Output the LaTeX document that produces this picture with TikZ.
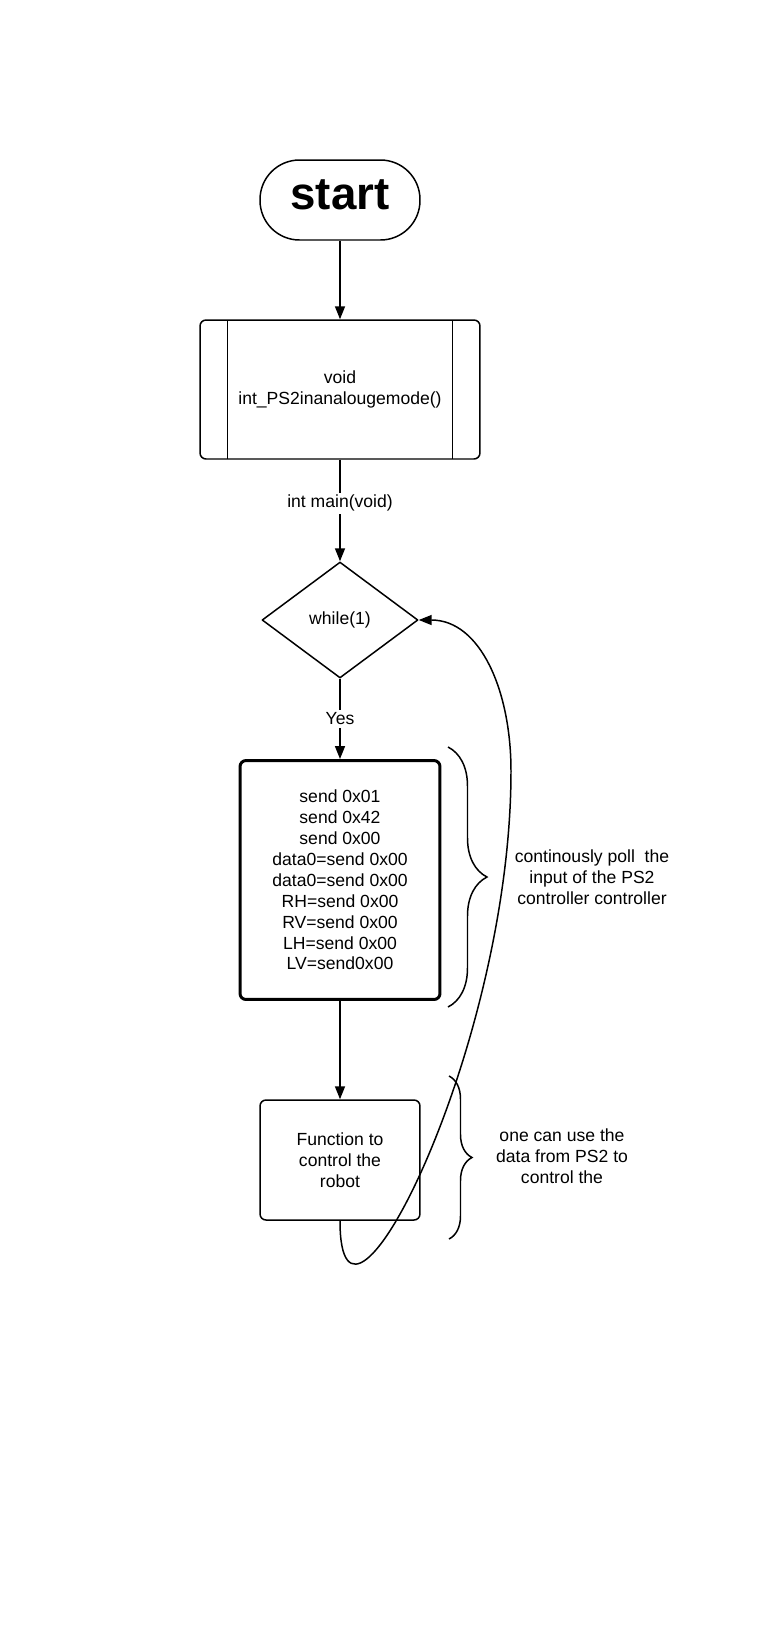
\documentclass[tikz,border=0pt]{standalone}
\usepackage{fontspec}
\setmainfont{Liberation Sans}
\usetikzlibrary{arrows.meta,shapes.geometric,decorations.pathreplacing}
\definecolor{ink}{HTML}{000000}
\tikzset{
  % ---- blocks ----------------------------------------------------
  txt/.style      = {font=\fontsize{10}{11.9}\selectfont, align=center,
                     text=ink},
  term/.style     = {draw=ink, rectangle, rounded corners=7.9mm,
                     minimum width=3.2cm, minimum height=1.6cm,
                     text depth=0.2cm,
                     font=\bfseries\fontsize{26}{30}\selectfont},
  subr/.style     = {txt, draw=ink, rectangle, rounded corners=1.2mm,
                     minimum width=5.6cm, minimum height=2.78cm,
                     path picture={
                       \draw[draw=ink]
                         ([xshift=5.5mm]path picture bounding box.north west) --
                         ([xshift=5.5mm]path picture bounding box.south west)
                         ([xshift=-5.5mm]path picture bounding box.north east) --
                         ([xshift=-5.5mm]path picture bounding box.south east);}},
  cond/.style     = {txt, draw=ink, diamond, inner sep=0pt, line join=round,
                     minimum width=3.12cm, minimum height=2.32cm},
  proc/.style     = {txt, draw=ink, rectangle, rounded corners=1.2mm},
  heavy/.style    = {proc, line width=1.7pt, minimum width=4cm,
                     minimum height=4.78cm},
  plain/.style    = {proc, minimum width=3.2cm, minimum height=2.4cm},
  % ---- connectors ------------------------------------------------
  flow/.style     = {draw=ink, -{Triangle[length=2.6mm,width=2mm]}},
  elab/.style     = {txt, fill=white, inner sep=1.5pt},
  % ---- side notes ------------------------------------------------
  brk/.style      = {draw=ink, decorate, decoration={brace, amplitude=#1}},
  note/.style     = {txt},
}

\begin{document}
\begin{tikzpicture}[x=0.02cm, y=-0.02cm, line width=0.85pt]
  \useasboundingbox (0,0) rectangle (767,1634);
  \node[term] (start) at (340,200) {start};
  \node[subr] (init) at (340,389.5) {void\\int\_PS2inanalougemode()};
  \node[cond] (cond) at (340,620) {while(1)};
  \node[heavy] (poll) at (340,880) {send 0x01\\send 0x42\\send 0x00\\data0=send 0x00\\data0=send 0x00\\RH=send 0x00\\RV=send 0x00\\LH=send 0x00\\LV=send0x00};
  \node[plain] (robot) at (340,1160) {Function to\\control the\\robot};
  \draw[flow] (start) -- (init);
  \draw[flow] (init) -- node[elab, pos=.43] {int main(void)} (cond);
  \draw[flow] (cond) -- node[elab] {Yes} (poll);
  \draw[flow] (poll) -- (robot);
  % loop back to the test
  \coordinate (turn) at (511,771);
  \draw[flow] (robot.south) .. controls (340,1385) and (511,1050) .. (turn)
                             .. controls (511,690) and (480,620) .. (cond.east);
  % notes
  \coordinate (b1a) at (448,747);
  \coordinate (b1b) at (448,1007);
  \draw[brk=0.78cm] (b1a) -- (b1b);
  \node[note] (pollnote) at (592,877) {continously poll\ \ the\\input of the PS2\\controller controller};
  \coordinate (b2a) at (449,1076);
  \coordinate (b2b) at (449,1239);
  \draw[brk=0.46cm] (b2a) -- (b2b);
  \node[note] (robotnote) at (562,1156) {one can use the\\data from PS2 to\\control the};
\end{tikzpicture}
\end{document}
